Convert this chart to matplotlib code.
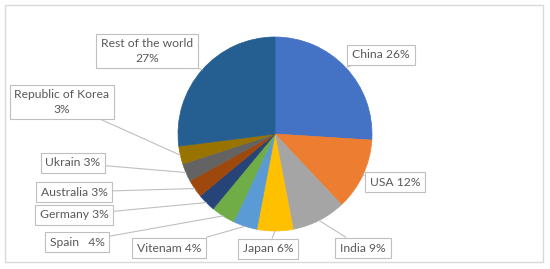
import matplotlib.pyplot as plt
from matplotlib.patches import Rectangle
import numpy as np

plt.rcParams['font.family'] = ['Lato', 'DejaVu Sans']

countries = ['China', 'USA', 'India', 'Japan', 'Vitenam', 'Spain', 'Germany',
             'Australia', 'Ukrain', 'Republic of Korea', 'Rest of the world']
shares = [26, 12, 9, 6, 4, 4, 3, 3, 3, 3, 27]
label_texts = ['China 26%', 'USA 12%', 'India 9%', 'Japan 6%', 'Vitenam 4%',
               'Spain   4%', 'Germany 3%', 'Australia 3%', 'Ukrain 3%',
               'Republic of Korea\n3%', 'Rest of the world\n27%']
colors = ['#4472C4', '#ED7D31', '#A5A5A5', '#FFC000', '#5B9BD5', '#70AD47',
          '#264478', '#9E480E', '#636363', '#997300', '#255E91']

# label box centres in image pixels (x, y from top)
label_pos = [(381, 55), (395, 182), (363, 248), (268, 249), (169, 248),
             (77, 242), (74, 215), (74, 192), (73, 163), (62, 102), (147, 51)]

W, H = 550, 269
cx, cy, R = 275, 134, 97

fig = plt.figure(figsize=(W / 100, H / 100), dpi=100)
ax = fig.add_axes([0, 0, 1, 1])

wedges, _ = ax.pie(shares, colors=colors, startangle=90, counterclock=False,
                   center=(cx, H - cy), radius=R)
for w in wedges:
    # same-colour edge hides the antialiasing seams between slices
    w.set_edgecolor(w.get_facecolor())
    w.set_linewidth(0.5)

ax.add_patch(Rectangle((5, H - 262), 538, 257, fill=False,
                       edgecolor='#D9D9D9', lw=1))

total = sum(shares)
cum = 0
for txt, s, (lx, ly) in zip(label_texts, shares, label_pos):
    mid = (cum + s / 2) / total * 2 * np.pi
    cum += s
    ex = cx + R * np.sin(mid)
    ey = cy - R * np.cos(mid)
    ax.annotate(txt, xy=(ex, H - ey), xytext=(lx, H - ly),
                ha='center', va='center', fontsize=8.7, color='#595959',
                linespacing=1.35,
                bbox=dict(boxstyle='square,pad=0.4', fc='white',
                          ec='#BFBFBF', lw=0.8),
                arrowprops=dict(arrowstyle='-', color='#BFBFBF', lw=0.8,
                                shrinkA=0, shrinkB=0))

ax.set_xlim(0, W)
ax.set_ylim(0, H)
ax.set_aspect('equal')
ax.axis('off')
fig.savefig('out.png', dpi=100)
